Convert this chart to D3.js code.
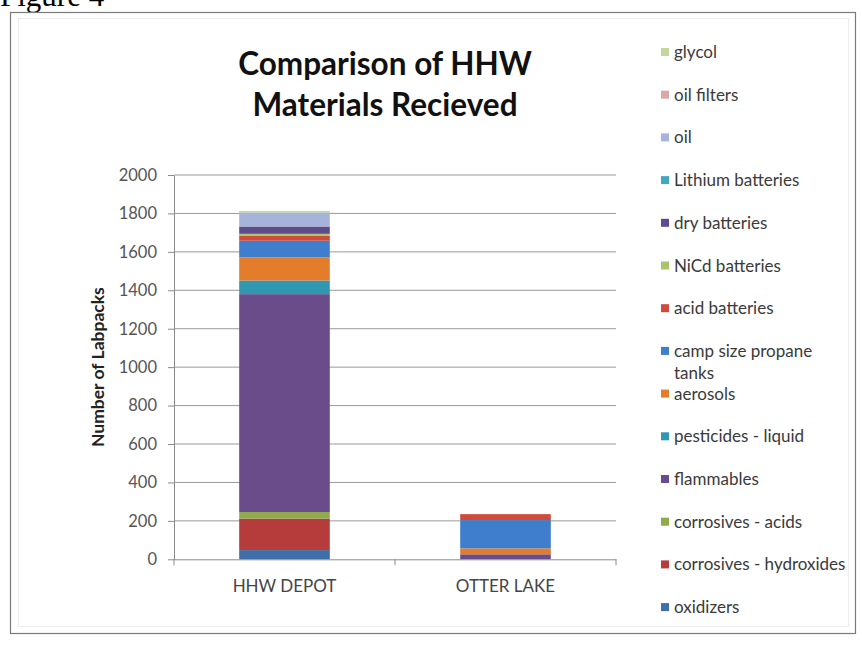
<!DOCTYPE html>
<html>
<head>
<meta charset="utf-8">
<script src="https://cdn.jsdelivr.net/npm/d3@7"></script>
<style>
  html, body { margin: 0; padding: 0; background: #fff; }
  svg { display: block; }
</style>
</head>
<body>
<svg id="chart" width="862" height="659"></svg>
<script>
// Sites compared
const categories = ["HHW DEPOT", "OTTER LAKE"];

// Material types, in stacking order (bottom to top)
const seriesNames = [
  "oxidizers",
  "corrosives - hydroxides",
  "corrosives - acids",
  "flammables",
  "pesticides - liquid",
  "aerosols",
  "camp size propane tanks",
  "acid batteries",
  "NiCd batteries",
  "dry batteries",
  "Lithium batteries",
  "oil",
  "oil filters",
  "glycol"
];

// Labpacks received per material at each site
const hhwDepot  = [48, 164, 34, 1134, 71, 120, 87, 27, 9, 38, 0, 73, 0, 8];
const otterLake = [0, 0, 0, 26, 0, 31, 147, 31, 0, 0, 0, 0, 0, 0];

const seriesColors = [
  "#3F6EA8", "#B53C3A", "#8FAA4C", "#6B4C8B", "#2F97AF", "#E37D2C", "#3E7ECC",
  "#CF4B3C", "#A9C46B", "#5D4B8C", "#44A7C0", "#A6B3DA", "#D9A9A9", "#C3D69B"
];

const yTicks = [0, 200, 400, 600, 800, 1000, 1200, 1400, 1600, 1800, 2000];

const svg = d3.select("#chart");
const font = "Lato, 'Open Sans', sans-serif";

// Page caption above the framed chart
svg.append("text")
  .attr("x", 0).attr("y", 6)
  .attr("font-family", "'Liberation Serif', 'Times New Roman', serif")
  .attr("font-size", 31)
  .attr("fill", "#000")
  .text("Figure 4");

// Chart frame
svg.append("rect")
  .attr("x", 10.5).attr("y", 12.5).attr("width", 845).attr("height", 621)
  .attr("fill", "#fff").attr("stroke", "#7a7a7a").attr("stroke-width", 1.2);
svg.append("rect")
  .attr("x", 18.5).attr("y", 18.5).attr("width", 830).attr("height", 608)
  .attr("fill", "none").attr("stroke", "#ececec").attr("stroke-width", 1);

// Title
const title = svg.append("text")
  .attr("text-anchor", "middle")
  .attr("font-family", font)
  .attr("font-weight", "bold")
  .attr("font-size", 31.5)
  .attr("fill", "#111");
title.append("tspan").attr("x", 385).attr("y", 75).text("Comparison of HHW");
title.append("tspan").attr("x", 385).attr("y", 116).text("Materials Recieved");

// Scales
const plotLeft = 174, plotRight = 616, plotTop = 175, plotBottom = 559.3;
const x = d3.scaleBand().domain(categories).range([plotLeft, plotRight]).padding(0);
const y = d3.scaleLinear().domain([0, 2000]).range([plotBottom, plotTop]);
const barWidth = x.bandwidth() * 0.41;

// Gridlines
svg.append("g")
  .selectAll("line")
  .data(yTicks.filter(d => d > 0))
  .join("line")
  .attr("x1", plotLeft).attr("x2", plotRight)
  .attr("y1", d => y(d)).attr("y2", d => y(d))
  .attr("stroke", "#9a9a9a").attr("stroke-width", 1);

// Y axis
const yAxis = svg.append("g")
  .attr("transform", `translate(${plotLeft},0)`)
  .call(d3.axisLeft(y).tickValues(yTicks).tickFormat(d3.format("d"))
    .tickSize(6).tickPadding(11).tickSizeOuter(0));
yAxis.select(".domain").attr("stroke", "#8a8a8a");
yAxis.selectAll(".tick line").attr("stroke", "#8a8a8a");
yAxis.selectAll(".tick text")
  .attr("font-family", font).attr("font-size", 16.5).attr("fill", "#555");

// Y axis title
svg.append("text")
  .attr("transform", `translate(104,${(plotTop + plotBottom) / 2}) rotate(-90)`)
  .attr("text-anchor", "middle")
  .attr("font-family", font).attr("font-weight", "bold").attr("font-size", 17.5)
  .attr("fill", "#222")
  .text("Number of Labpacks");

// Stacked bars
const rows = categories.map((c, i) => {
  const r = { category: c };
  seriesNames.forEach((s, j) => { r[s] = (i === 0 ? hhwDepot : otterLake)[j]; });
  return r;
});
const stacked = d3.stack().keys(seriesNames)(rows);

svg.append("g")
  .selectAll("g")
  .data(stacked)
  .join("g")
  .attr("fill", (d, i) => seriesColors[i])
  .selectAll("rect")
  .data(d => d)
  .join("rect")
  .attr("x", d => x(d.data.category) + (x.bandwidth() - barWidth) / 2)
  .attr("width", barWidth)
  .attr("y", d => y(d[1]))
  .attr("height", d => y(d[0]) - y(d[1]));

// X axis
const xAxis = svg.append("g")
  .attr("transform", `translate(0,${plotBottom})`)
  .call(d3.axisBottom(x).tickSize(0).tickPadding(21));
xAxis.select(".domain").attr("stroke", "#8a8a8a");
xAxis.selectAll(".tick text")
  .attr("font-family", font).attr("font-size", 17).attr("fill", "#444");
// Category separators on the x axis
svg.append("g")
  .selectAll("line")
  .data([plotLeft, plotLeft + x.step(), plotRight])
  .join("line")
  .attr("x1", d => d).attr("x2", d => d)
  .attr("y1", plotBottom).attr("y2", plotBottom + 6)
  .attr("stroke", "#8a8a8a");

// Legend (top item is the last stacked series)
const legendOrder = seriesNames.map((s, i) => i).reverse();
const legend = svg.append("g")
  .selectAll("g")
  .data(legendOrder)
  .join("g")
  .attr("transform", (d, k) => `translate(661,${52 + k * 42.7})`);
legend.append("rect")
  .attr("x", 0).attr("y", -4).attr("width", 8).attr("height", 8)
  .attr("fill", d => seriesColors[d]);
legend.append("text")
  .attr("x", 13).attr("y", 6)
  .attr("font-family", font).attr("font-size", 17).attr("fill", "#3a3a3a")
  .each(function(d) {
    const name = seriesNames[d];
    const t = d3.select(this);
    if (name === "camp size propane tanks") {
      t.append("tspan").attr("x", 13).text("camp size propane");
      t.append("tspan").attr("x", 13).attr("dy", 22).text("tanks");
    } else {
      t.text(name);
    }
  });
</script>
</body>
</html>
